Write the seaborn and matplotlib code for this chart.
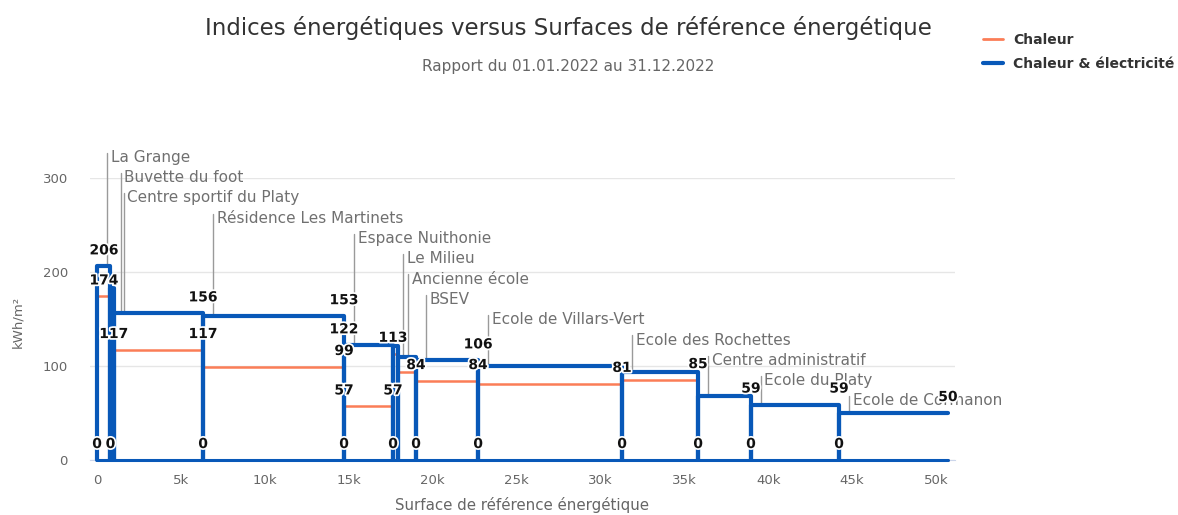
import numpy as np
import pandas as pd
import matplotlib
matplotlib.use("Agg")
import matplotlib.pyplot as plt
import matplotlib.patheffects as pe
from matplotlib.lines import Line2D
from matplotlib.ticker import FuncFormatter
import seaborn as sns

# data
batiments = ["La Grange", "Buvette du foot", "Centre sportif du Platy",
             "Résidence Les Martinets", "Espace Nuithonie", "Le Milieu",
             "Ancienne école", "BSEV", "Ecole de Villars-Vert",
             "Ecole des Rochettes", "Centre administratif", "Ecole du Platy",
             "Ecole de Cormanon"]
surface = [800, 200, 5320, 8400, 2920, 300, 1070, 3700, 8580, 4530, 3150, 5250, 6490]
chaleur_elec = [206, 183, 156, 153, 122, 121, 110, 106, 100, 94, 68, 59, 50]
chaleur = [174, 140, 117, 99, 57, 113, 94, 84, 81, 85, 0, 0, 0]

# visible data labels (index of building boundary, value)
lbl_elec_idx = [0, 3, 4, 4, 8, 11, 12, 13]
lbl_elec_val = [206, 156, 153, 122, 106, 59, 59, 50]
lbl_chal_idx = [0, 2, 3, 4, 4, 5, 5, 7, 8, 9, 10]
lbl_chal_val = [174, 117, 117, 99, 57, 57, 113, 84, 84, 81, 85]
lbl_zero_idx = [0, 1, 3, 4, 5, 7, 8, 9, 10, 11, 12]

ORANGE = "#fb7d57"
BLUE = "#0858b8"

edges = np.concatenate([[0], np.cumsum(surface)])

rows = []
for i, name in enumerate(batiments):
    x0, x1 = edges[i], edges[i + 1]
    pts = [(x0, 0, 0), (x0, chaleur_elec[i], chaleur[i]), (x1, chaleur_elec[i], chaleur[i])]
    if i < len(batiments) - 1:
        pts.append((x1, 0, 0))
    for x, ye, yc in pts:
        rows.append({"batiment": name, "x": x, "elec": ye, "chal": yc})
df = pd.DataFrame(rows)

sns.set_style("white")
plt.rcParams["font.family"] = ["DejaVu Sans"]

fig = plt.figure(figsize=(11.78, 5.15), dpi=100)
ax = fig.add_axes([90 / 1178, 55 / 515, 865 / 1178, 282 / 515])

ax.plot([edges[0], edges[-1]], [0, 0], color=BLUE, lw=2.2, clip_on=False, zorder=3)
sns.lineplot(data=df, x="x", y="chal", units="batiment", estimator=None, sort=False,
             color=ORANGE, lw=1.8, ax=ax, zorder=2)
sns.lineplot(data=df, x="x", y="elec", units="batiment", estimator=None, sort=False,
             color=BLUE, lw=3, ax=ax, zorder=3)
for l in ax.lines:
    l.set_clip_on(False)

ax.set_xlim(-420, 51130)
ax.set_ylim(0, 300)

# data labels
outline = [pe.withStroke(linewidth=2.5, foreground="white")]
labels = ([(edges[i], v, str(v)) for i, v in zip(lbl_elec_idx, lbl_elec_val)] +
          [(edges[i], v, str(v)) for i, v in zip(lbl_chal_idx, lbl_chal_val)] +
          [(edges[i], 0, "0") for i in lbl_zero_idx])
for x, v, t in labels:
    dx = 5 if (x == 0 and len(t) > 1) else 0
    ax.annotate(t, (x, v), xytext=(dx, 11.5), textcoords="offset points",
                ha="center", va="center", fontsize=10, fontweight="bold", color="#111111",
                path_effects=outline, zorder=5, annotation_clip=False)

# building name annotations
for i, name in enumerate(batiments):
    xa = edges[i] + 600
    k = min(np.searchsorted(edges, xa, side="right") - 1, len(batiments) - 1)
    ytxt = 322 - 21.6 * i
    ax.plot([xa, xa], [chaleur_elec[k], ytxt + 5], color="#9a9a9a", lw=1,
            clip_on=False, zorder=1)
    ax.annotate(name, (xa, ytxt), xytext=(2.5, 0), textcoords="offset points",
                ha="left", va="center", fontsize=11, color="#707070",
                annotation_clip=False, zorder=4)

ax.set_xticks(np.arange(0, 50001, 5000))
ax.xaxis.set_major_formatter(FuncFormatter(lambda v, p: "0" if v == 0 else f"{v / 1000:g}k"))
ax.set_yticks([0, 100, 200, 300])
ax.tick_params(axis="x", length=7, color="#ccd6eb", width=1, pad=3,
               labelsize=9.5, labelcolor="#666666")
ax.tick_params(axis="y", length=0, pad=16, labelsize=9.5, labelcolor="#666666")
ax.yaxis.grid(True, color="#e6e6e6", lw=1)
ax.xaxis.grid(False)
for s in ["top", "right", "left"]:
    ax.spines[s].set_visible(False)
ax.spines["bottom"].set_color("#ccd6eb")
ax.set_xlabel("")
ax.set_ylabel("")

fig.text(568 / 1178, 1 - 28 / 515, "Indices énergétiques versus Surfaces de référence énergétique",
         ha="center", va="center", fontsize=16.5, color="#333333")
fig.text(568 / 1178, 1 - 67 / 515, "Rapport du 01.01.2022 au 31.12.2022",
         ha="center", va="center", fontsize=11, color="#666666")
fig.text(18 / 1178, 1 - 322 / 515, "kWh/m²", rotation=90, ha="center", va="center",
         fontsize=9.5, color="#666666")
fig.text(522 / 1178, 1 - 505 / 515, "Surface de référence énergétique",
         ha="center", va="center", fontsize=10.8, color="#666666")

handles = [Line2D([], [], color=ORANGE, lw=2), Line2D([], [], color=BLUE, lw=3)]
leg = fig.legend(handles, ["Chaleur", "Chaleur & électricité"], loc="upper left",
                 bbox_to_anchor=(970 / 1178, 1 - 20 / 515), frameon=False,
                 handlelength=1.5, handletextpad=0.7, labelspacing=0.75,
                 prop={"size": 10, "weight": "bold"})
for t in leg.get_texts():
    t.set_color("#333333")

fig.savefig("out.png", dpi=100)
